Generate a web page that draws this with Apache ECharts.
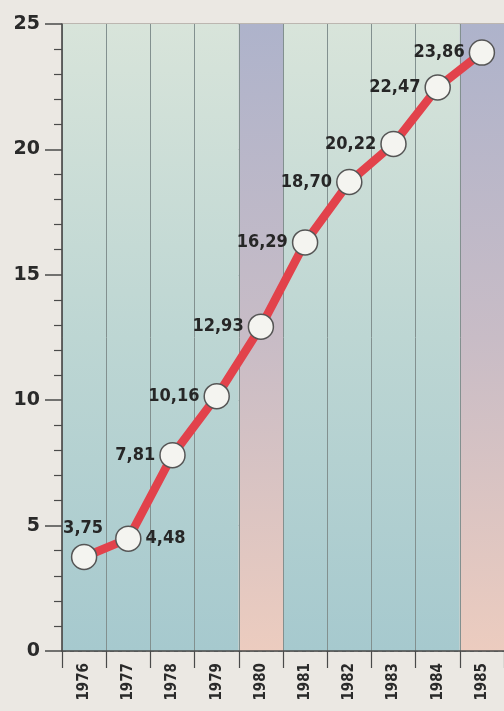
<!DOCTYPE html>
<html>
<head>
<meta charset="utf-8">
<script src="https://cdn.jsdelivr.net/npm/echarts@6/dist/echarts.min.js"></script>
<style>
  html, body { margin: 0; padding: 0; background: #ebe8e3; }
  #chart { width: 504px; height: 711px; }
</style>
</head>
<body>
<div id="chart"></div>
<script>
// Years along the horizontal axis
const years = ['1976', '1977', '1978', '1979', '1980', '1981', '1982', '1983', '1984', '1985'];
// Values per year (printed with a decimal comma)
const values = [3.75, 4.48, 7.81, 10.16, 12.93, 16.29, 18.70, 20.22, 22.47, 23.86];
// Years whose column is highlighted
const highlightYears = ['1980', '1985'];
// Where each value label sits relative to its point
const labelSides = ['top', 'right', 'left', 'left', 'left', 'left', 'left', 'left', 'left', 'left'];

const G = echarts.graphic.LinearGradient;
const normalBand = new G(0, 0, 0, 1, [
  { offset: 0, color: '#d8e4da' },
  { offset: 0.5, color: '#bdd6d3' },
  { offset: 1, color: '#a6c9ce' }
]);
const highlightBand = new G(0, 0, 0, 1, [
  { offset: 0, color: '#aeb3cb' },
  { offset: 0.5, color: '#c8bcc6' },
  { offset: 1, color: '#ecccbf' }
]);
const bandColors = years.map(y => highlightYears.includes(y) ? highlightBand : normalBand);

const fmt = v => v.toFixed(2).replace('.', ',');

const chart = echarts.init(document.getElementById('chart'), null, { renderer: 'canvas' });
chart.setOption({
  backgroundColor: '#ebe8e3',
  animation: false,
  grid: {
    left: 62, right: -14, top: 24, bottom: 60,
    show: true, borderColor: '#8c847c', borderWidth: 1
  },
  xAxis: {
    type: 'category',
    data: years,
    boundaryGap: true,
    axisLine: { show: true, lineStyle: { color: '#4a4a4a', width: 1.5 } },
    axisTick: { show: true, length: 17, lineStyle: { color: '#4a4a4a', width: 1.2 } },
    axisLabel: {
      rotate: 90, margin: 12,
      fontFamily: '"DejaVu Sans Condensed", "DejaVu Sans", sans-serif',
      fontWeight: 'bold', fontSize: 15, color: '#2a2a2a'
    },
    splitLine: { show: true, lineStyle: { color: '#82908f', width: 1 } },
    splitArea: { show: true, areaStyle: { color: bandColors } }
  },
  yAxis: {
    type: 'value',
    min: 0, max: 25, interval: 5,
    axisLine: { show: true, lineStyle: { color: '#4a4a4a', width: 1.5 } },
    axisTick: { show: true, length: 17, lineStyle: { color: '#4a4a4a', width: 1.5 } },
    minorTick: { show: true, splitNumber: 5, length: 8, lineStyle: { color: '#4a4a4a', width: 1.2 } },
    axisLabel: {
      margin: 22,
      fontFamily: '"DejaVu Sans", sans-serif',
      fontWeight: 'bold', fontSize: 19, color: '#2a2a2a'
    },
    splitLine: { show: true, lineStyle: { color: '#7d8585', width: 1, type: [4, 4] } }
  },
  series: [{
    type: 'line',
    data: values.map((v, i) => ({
      value: v,
      label: {
        show: true,
        position: labelSides[i],
        distance: labelSides[i] === 'top' ? 6 : 4,
        offset: labelSides[i] === 'top' ? [-1, 0] : [0, 0]
      }
    })),
    lineStyle: { color: '#e2424b', width: 8.5 },
    symbol: 'circle',
    symbolSize: 25,
    itemStyle: { color: '#f4f4f0', borderColor: '#555555', borderWidth: 1.5 },
    label: {
      formatter: p => fmt(p.value),
      fontFamily: '"DejaVu Sans Condensed", sans-serif',
      fontWeight: 'bold', fontSize: 18, color: '#262626'
    },
    z: 5
  }]
});
</script>
</body>
</html>
